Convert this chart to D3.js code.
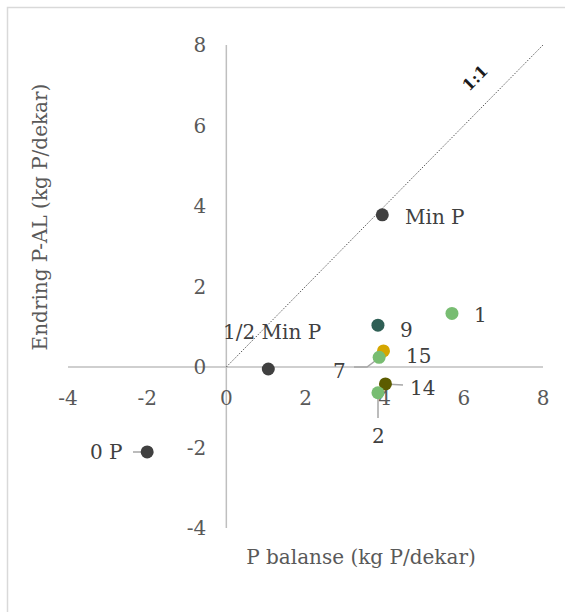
<!DOCTYPE html>
<html>
<head>
<meta charset="utf-8">
<script src="https://cdn.jsdelivr.net/npm/d3@7"></script>
<style>
body { margin: 0; background: white; }
text { font-family: "DejaVu Serif", "Liberation Serif", serif; }
</style>
</head>
<body>
<div id="chart"></div>
<script>
// data
var labels = ["0 P", "1/2 Min P", "Min P", "9", "1", "15", "7", "14", "2"]
var xvals = [-2.0, 1.06, 3.94, 3.83, 5.70, 3.97, 3.86, 4.02, 3.83]
var yvals = [-2.11, -0.05, 3.78, 1.04, 1.33, 0.40, 0.24, -0.42, -0.64]
var colors = ["#404040", "#404040", "#404040", "#2f5f55", "#78bd72", "#d4a600", "#78bd72", "#5c5c00", "#78bd72"]
var ticks = [-4, -2, 0, 2, 4, 6, 8]

var svg = d3.select("#chart")
    .append("svg")
    .attr("width", 565)
    .attr("height", 612)

// frame
svg.append("rect")
    .attr("x", 7.5)
    .attr("y", 7.5)
    .attr("width", 600)
    .attr("height", 650)
    .attr("fill", "none")
    .attr("stroke", "#d9d9d9")
    .attr("stroke-width", 1.5)

var x = d3.scaleLinear().domain([-4, 8]).range([68, 543])
var y = d3.scaleLinear().domain([-4, 8]).range([528, 45])

// axes crossing at zero
svg.append("line")
    .attr("x1", x(-4)).attr("x2", x(8))
    .attr("y1", y(0)).attr("y2", y(0))
    .attr("stroke", "#bfbfbf").attr("stroke-width", 1.5)
svg.append("line")
    .attr("x1", x(0)).attr("x2", x(0))
    .attr("y1", y(8)).attr("y2", y(-4))
    .attr("stroke", "#bfbfbf").attr("stroke-width", 1.5)

svg.selectAll(".xtick")
    .data(ticks)
    .enter().append("text")
    .attr("class", "xtick")
    .attr("x", d => x(d))
    .attr("y", y(0) + 31)
    .attr("dy", "0.35em")
    .attr("text-anchor", "middle")
    .style("font-size", "20px")
    .style("fill", "#595959")
    .text(d => d)

svg.selectAll(".ytick")
    .data(ticks)
    .enter().append("text")
    .attr("class", "ytick")
    .attr("x", x(0) - 20)
    .attr("y", d => y(d))
    .attr("dy", "0.35em")
    .attr("text-anchor", "end")
    .style("font-size", "20px")
    .style("fill", "#595959")
    .text(d => d)

// 1:1 line
svg.append("line")
    .attr("x1", x(0)).attr("y1", y(0))
    .attr("x2", x(8)).attr("y2", y(8))
    .attr("stroke", "#595959")
    .attr("stroke-width", 1)
    .attr("stroke-dasharray", "1.5,1.5")

svg.append("text")
    .attr("transform", "translate(475,78) rotate(-45)")
    .attr("text-anchor", "middle")
    .attr("dy", "0.35em")
    .style("font-size", "16px")
    .style("font-weight", "bold")
    .style("fill", "#1a1a1a")
    .text("1:1")

// leader lines
var leaders = [
    [[133, 452], [147, 452]],
    [[354, 367], [367, 367], [379, 358]],
    [[385, 384], [403, 385]],
    [[378, 393], [378, 418]]
]
svg.selectAll(".leader")
    .data(leaders)
    .enter().append("path")
    .attr("class", "leader")
    .attr("d", d3.line())
    .attr("fill", "none")
    .attr("stroke", "#a6a6a6")
    .attr("stroke-width", 1.5)

// points
svg.selectAll(".dot")
    .data(labels)
    .enter().append("circle")
    .attr("class", "dot")
    .attr("cx", (d, i) => x(xvals[i]))
    .attr("cy", (d, i) => y(yvals[i]))
    .attr("r", 6.5)
    .attr("fill", (d, i) => colors[i])

// point labels
var labelPos = [[90, 452], [223, 332], [405, 217], [400, 330],
    [474, 315], [406, 356], [333, 371], [410, 388], [372, 436]]
svg.selectAll(".plabel")
    .data(labels)
    .enter().append("text")
    .attr("class", "plabel")
    .attr("x", (d, i) => labelPos[i][0])
    .attr("y", (d, i) => labelPos[i][1])
    .attr("dy", "0.35em")
    .style("font-size", "20px")
    .style("fill", "#404040")
    .text(d => d)

// axis titles
svg.append("text")
    .attr("x", 361)
    .attr("y", 557)
    .attr("dy", "0.35em")
    .attr("text-anchor", "middle")
    .style("font-size", "20px")
    .style("fill", "#595959")
    .text("P balanse (kg P/dekar)")

svg.append("text")
    .attr("transform", "translate(40,217) rotate(-90)")
    .attr("dy", "0.35em")
    .attr("text-anchor", "middle")
    .style("font-size", "20px")
    .style("fill", "#595959")
    .text("Endring P-AL (kg P/dekar)")
</script>
</body>
</html>
